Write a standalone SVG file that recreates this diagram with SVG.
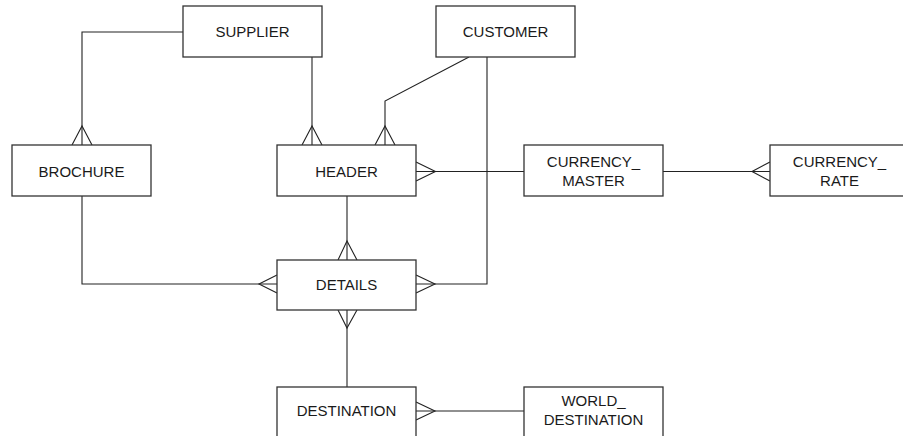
<svg xmlns="http://www.w3.org/2000/svg" width="903" height="436" viewBox="0 0 903 436">
  <style>
    .box { fill: #ffffff; stroke: #333333; stroke-width: 1.3; }
    .lbl { font-family: "Liberation Sans", Arial, sans-serif; font-size: 15px; fill: #1a1a1a; text-anchor: middle; }
    .ln { fill: none; stroke: #222222; stroke-width: 1.1; }
  </style>
  <rect width="903" height="436" fill="#ffffff"/>

  <g id="connectors">
    <!-- SUPPLIER to BROCHURE -->
    <polyline class="ln" points="183,32 82,32 82,145"/>
    <polyline class="ln" points="72,145 82,126 92,145"/>
    <!-- SUPPLIER to HEADER -->
    <line class="ln" x1="312" y1="57" x2="312" y2="145"/>
    <polyline class="ln" points="302,145 312,126 322,145"/>
    <!-- CUSTOMER to HEADER -->
    <polyline class="ln" points="469,57 385,101 385,145"/>
    <polyline class="ln" points="375,145 385,126 395,145"/>
    <!-- CUSTOMER to DETAILS -->
    <polyline class="ln" points="487,57 487,284 416,284"/>
    <polyline class="ln" points="416,275 435,284 416,293"/>
    <!-- HEADER to CURRENCY_MASTER -->
    <line class="ln" x1="416" y1="171.5" x2="524" y2="171.5"/>
    <polyline class="ln" points="416,162 435.5,171.5 416,181"/>
    <!-- CURRENCY_MASTER to CURRENCY_RATE -->
    <line class="ln" x1="663" y1="171.5" x2="770" y2="171.5"/>
    <polyline class="ln" points="770,162 752,171.5 770,181"/>
    <!-- BROCHURE to DETAILS -->
    <polyline class="ln" points="82,196 82,284 277,284"/>
    <polyline class="ln" points="277,275 259,284 277,293"/>
    <!-- HEADER to DETAILS -->
    <line class="ln" x1="347" y1="196" x2="347" y2="260"/>
    <polyline class="ln" points="338,260 347,241 357,260"/>
    <!-- DETAILS to DESTINATION -->
    <line class="ln" x1="347" y1="310" x2="347" y2="387"/>
    <polyline class="ln" points="338,310 347,328 357,310"/>
    <!-- DESTINATION to WORLD_DESTINATION -->
    <line class="ln" x1="416" y1="411" x2="524" y2="411"/>
    <polyline class="ln" points="416,402 435,411 416,420"/>
  </g>

  <g id="supplier">
    <rect class="box" x="183" y="6" width="139" height="51"/>
    <text class="lbl" x="252.5" y="36.5">SUPPLIER</text>
  </g>
  <g id="customer">
    <rect class="box" x="436" y="6" width="139" height="51"/>
    <text class="lbl" x="505.5" y="36.5">CUSTOMER</text>
  </g>
  <g id="brochure">
    <rect class="box" x="12" y="145" width="139" height="51"/>
    <text class="lbl" x="81.5" y="176.5">BROCHURE</text>
  </g>
  <g id="header">
    <rect class="box" x="277" y="145" width="139" height="51"/>
    <text class="lbl" x="346.5" y="176.5">HEADER</text>
  </g>
  <g id="currency_master">
    <rect class="box" x="524" y="145" width="139" height="51"/>
    <text class="lbl" x="593.5" y="166.5">CURRENCY_</text>
    <text class="lbl" x="593.5" y="185.5">MASTER</text>
  </g>
  <g id="currency_rate">
    <rect class="box" x="770" y="145" width="139" height="51"/>
    <text class="lbl" x="839.5" y="166.5">CURRENCY_</text>
    <text class="lbl" x="839.5" y="185.5">RATE</text>
  </g>
  <g id="details">
    <rect class="box" x="277" y="260" width="139" height="50"/>
    <text class="lbl" x="346.5" y="290">DETAILS</text>
  </g>
  <g id="destination">
    <rect class="box" x="277" y="387" width="139" height="51"/>
    <text class="lbl" x="346.5" y="416">DESTINATION</text>
  </g>
  <g id="world_destination">
    <rect class="box" x="524" y="387" width="139" height="51"/>
    <text class="lbl" x="593.5" y="406">WORLD_</text>
    <text class="lbl" x="593.5" y="425">DESTINATION</text>
  </g>
</svg>
